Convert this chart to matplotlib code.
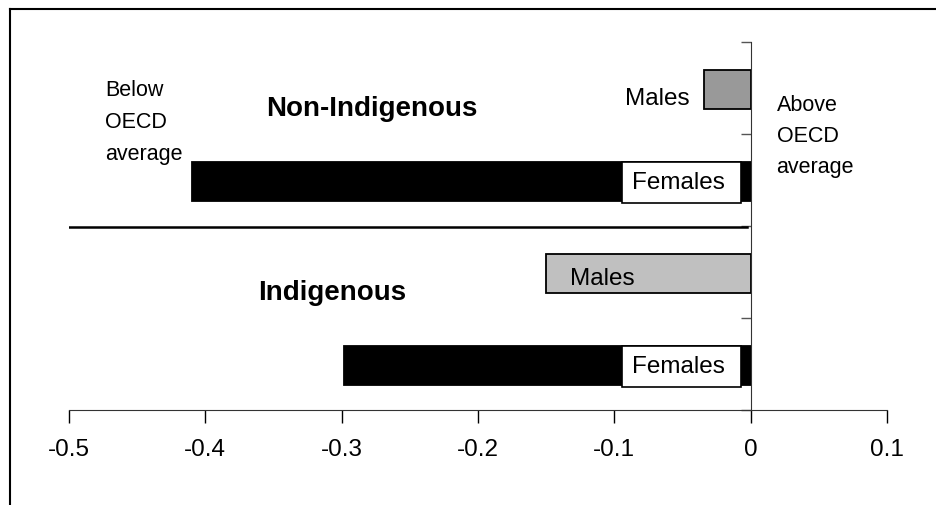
import matplotlib.pyplot as plt
from matplotlib.lines import Line2D
import numpy as np

plt.rcParams['font.family'] = ['Liberation Sans', 'DejaVu Sans']

# bars from top to bottom
groups = ['Non-Indigenous', 'Non-Indigenous', 'Indigenous', 'Indigenous']
sexes = ['Males', 'Females', 'Males', 'Females']
values = [-0.034, -0.41, -0.15, -0.298]
colors = ['#999999', '#000000', '#c0c0c0', '#000000']
xticks = [-0.5, -0.4, -0.3, -0.2, -0.1, 0, 0.1]
xticklabels = ['-0.5', '-0.4', '-0.3', '-0.2', '-0.1', '0', '0.1']

fig = plt.figure(figsize=(9.36, 5.06), dpi=100)
ax = fig.add_axes([69 / 936, 1 - 411 / 506, 818 / 936, 368 / 506])

pos = np.arange(len(values))
ax.barh(pos + 0.015, values, height=0.42, color=colors, edgecolor='black', linewidth=1.3)

ax.set_xlim(-0.5, 0.1)
ax.set_ylim(3.5, -0.5)
ax.set_xticks(xticks)
ax.set_xticklabels(xticklabels, fontsize=17.5)
ax.tick_params(axis='x', direction='out', length=9, width=1, pad=11)
ax.set_yticks([-0.5, 0.5, 1.5, 2.5, 3.5])
ax.set_yticklabels([])
ax.tick_params(axis='y', direction='out', length=7, width=1, color='#555555')
ax.spines['left'].set_position(('data', 0))
ax.spines['left'].set_color('#333333')
ax.spines['bottom'].set_color('#333333')
ax.spines['right'].set_visible(False)
ax.spines['top'].set_visible(False)

# divider between the two groups
ax.plot([-0.5, -0.003], [1.51, 1.51], color='black', lw=1.8)

# labels on the bars
for i, s in enumerate(sexes):
    if s == 'Females':
        ax.text(-0.0872, i + 0.09, 'Females ', fontsize=17.5, ha='left', va='baseline',
                bbox=dict(boxstyle='square,pad=0.39', facecolor='white', edgecolor='black', lw=1.2))
ax.text(-0.0447, 0.174, 'Males', fontsize=17.5, ha='right', va='baseline')
ax.text(-0.1327, 2.13, 'Males', fontsize=17.5, ha='left', va='baseline')

ax.text(-0.3555, 0.293, 'Non-Indigenous', fontsize=20, fontweight='bold', va='baseline')
ax.text(-0.3615, 2.293, 'Indigenous', fontsize=20, fontweight='bold', va='baseline')

for line, yb in zip(['Below', 'OECD', 'average'], [0.076, 0.424, 0.772]):
    ax.text(-0.4735, yb, line, fontsize=15.5, va='baseline')
for line, ya in zip(['Above', 'OECD', 'average'], [0.239, 0.576, 0.913]):
    ax.text(0.019, ya, line, fontsize=15.5, va='baseline')

# outer frame
fig.add_artist(Line2D([10 / 936, 10 / 936], [0, 1 - 10 / 506], color='black', lw=1.5))
fig.add_artist(Line2D([10 / 936, 1], [1 - 10 / 506, 1 - 10 / 506], color='black', lw=1.5))

fig.savefig('out.png', dpi=100)
